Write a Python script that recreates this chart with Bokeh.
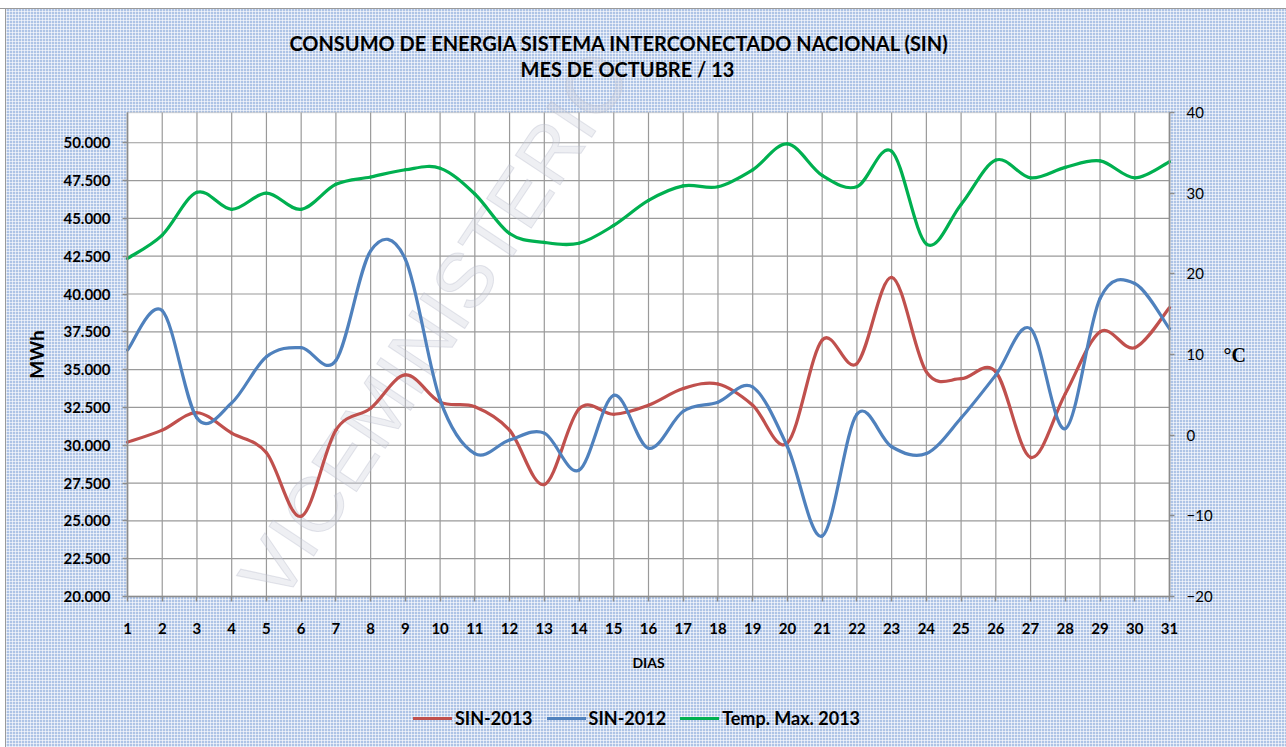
import numpy as np
from bokeh.plotting import figure
from bokeh.core.properties import value
from bokeh.models import (Range1d, LinearAxis, FixedTicker, CustomJSTickFormatter,
                          Legend, LegendItem, Label, BoxAnnotation, ColumnDataSource)
from bokeh.embed import file_html
from bokeh.resources import INLINE

# ---------------- data ----------------
days = list(range(1, 32))
sin_2013 = [30200, 31000, 32150, 30800, 29500, 25300, 31000, 32450, 34650, 32850,
            32550, 31000, 27400, 32400, 32050, 32650, 33750, 34050, 32650, 30150,
            36950, 35400, 41100, 34850, 34400, 34850, 29200, 33400, 37500, 36450, 39100]
sin_2012 = [36300, 38900, 31800, 32800, 35850, 36450, 35600, 42850, 42300, 33000,
            29450, 30350, 30800, 28350, 33300, 29800, 32250, 32850, 33850, 29900,
            24000, 32050, 29900, 29450, 31800, 34650, 37700, 31100, 39700, 40700, 37700]
temp_max_2013 = [21.9, 24.8, 30.1, 28.0, 30.0, 28.0, 31.1, 32.0, 32.9, 33.1,
                 29.9, 25.0, 23.9, 23.8, 26.0, 29.1, 30.9, 30.8, 32.9, 36.1,
                 32.2, 30.8, 35.2, 23.7, 28.6, 34.1, 31.9, 33.2, 34.0, 31.9, 33.9]
mwh_ticks = list(range(20000, 50001, 2500))
temp_ticks = [-20, -10, 0, 10, 20, 30, 40]
series_names = ["SIN-2013", "SIN-2012", "Temp. Max. 2013"]
series_colors = ["#c0504d", "#4f81bd", "#00b050"]
title_lines = ["CONSUMO DE ENERGIA SISTEMA INTERCONECTADO NACIONAL (SIN)",
               "MES DE OCTUBRE / 13"]
watermark_text = "VICEMINISTERIO"

# axis limits of the plot area
MWH_MIN, MWH_MAX = 20000, 52000
T_MIN, T_MAX = -20, 40
D_MIN, D_MAX = 1, 31

# ---------------- layout geometry (pixels) ----------------
W, H = 1286, 747
FB = 730                               # bottom of the drawing frame
PL, PR, PT, PB = 127, 1169, 112, 596   # plot-area edges

ppu = (PB - PT) / (MWH_MAX - MWH_MIN)
y_lo = MWH_MIN - (FB - PB) / ppu
y_hi = MWH_MAX + PT / ppu
tpu = (PB - PT) / (T_MAX - T_MIN)
t_lo = T_MIN - (FB - PB) / tpu
t_hi = T_MAX + PT / tpu
dpp = (PR - PL) / (D_MAX - D_MIN)
x_lo = D_MIN - PL / dpp
x_hi = D_MAX + (W - PR) / dpp


def px_x(px):
    return D_MIN + (px - PL) / dpp


def px_y(py):
    return MWH_MAX + (PT - py) / ppu


def smooth_source(x, y):
    """Cubic Bezier segments (Catmull-Rom style), like a smoothed Excel line."""
    x = np.asarray(x, float)
    y = np.asarray(y, float)
    n = len(x)
    d = dict(x0=[], y0=[], x1=[], y1=[], cx0=[], cy0=[], cx1=[], cy1=[])
    for i in range(n - 1):
        im = max(i - 1, 0)
        ip = min(i + 2, n - 1)
        d["x0"].append(x[i]); d["y0"].append(y[i])
        d["x1"].append(x[i + 1]); d["y1"].append(y[i + 1])
        d["cx0"].append(x[i] + (x[i + 1] - x[im]) / 6.0)
        d["cy0"].append(y[i] + (y[i + 1] - y[im]) / 6.0)
        d["cx1"].append(x[i + 1] - (x[ip] - x[i]) / 6.0)
        d["cy1"].append(y[i + 1] - (y[ip] - y[i]) / 6.0)
    return ColumnDataSource(d)


# ---------------- figure ----------------
p = figure(width=W, height=H, output_backend="svg", toolbar_location=None,
           x_range=Range1d(x_lo, x_hi), y_range=Range1d(y_lo, y_hi),
           min_border_left=0, min_border_right=0,
           min_border_top=0, min_border_bottom=H - FB)
p.border_fill_color = None
p.background_fill_color = None
p.outline_line_color = None
p.styles = {
    "background-color": "#aec4e6",
    "background-image": (
        "linear-gradient(180deg, #ffffff 0px, #ffffff 8px, #9a9a9a 8px, #9a9a9a 9px, transparent 9px),"
        "linear-gradient(90deg, #ffffff 0px, #ffffff 5px, #9a9a9a 5px, #9a9a9a 6px, transparent 6px),"
        "linear-gradient(90deg, rgba(255,255,255,0.6) 1px, transparent 1px),"
        "linear-gradient(0deg, rgba(255,255,255,0.6) 1px, transparent 1px)"),
    "background-size": "100% 100%, 100% 100%, 3px 3px, 3px 3px",
    "background-repeat": "no-repeat, no-repeat, repeat, repeat",
}

p.extra_y_ranges = {"temp": Range1d(t_lo, t_hi)}

# white plot area
p.add_layout(BoxAnnotation(left=D_MIN, right=D_MAX, bottom=MWH_MIN, top=MWH_MAX,
                           fill_color="white", fill_alpha=1.0,
                           line_color="#8c8c8c", line_width=1.5, level="image"))

# grid lines, limited to the plot area
p.xgrid.visible = False
p.ygrid.visible = False
p.segment(x0=days, y0=[MWH_MIN] * len(days), x1=days, y1=[MWH_MAX] * len(days),
          line_color="#9a9a9a", line_width=1.2, level="underlay")
p.segment(x0=[D_MIN] * len(mwh_ticks), y0=mwh_ticks, x1=[D_MAX] * len(mwh_ticks), y1=mwh_ticks,
          line_color="#9a9a9a", line_width=1.2, level="underlay")

# x axis (drawn at the bottom of the plot area)
xa = p.xaxis[0]
xa.ticker = FixedTicker(ticks=days)
xa.axis_label = "DIAS"
xa.fixed_location = MWH_MIN
xa.bounds = (D_MIN, D_MAX)
# y axis (left)
ya = p.yaxis[0]
ya.ticker = FixedTicker(ticks=mwh_ticks)
ya.axis_label = "MWh"
ya.fixed_location = D_MIN
ya.bounds = (MWH_MIN, MWH_MAX)
ya.formatter = CustomJSTickFormatter(code="""
    const s = Math.round(tick).toString();
    return s.length > 3 ? s.slice(0, s.length - 3) + '.' + s.slice(-3) : s;
""")
# right axis
ra = LinearAxis(y_range_name="temp", ticker=FixedTicker(ticks=temp_ticks),
                bounds=(T_MIN, T_MAX), fixed_location=D_MAX,
                axis_label="°C", axis_label_orientation="horizontal")
p.add_layout(ra, "right")

for ax in (xa, ya, ra):
    ax.axis_line_color = "#8c8c8c"
    ax.axis_line_width = 1.5
    ax.major_tick_line_color = "#8c8c8c"
    ax.major_tick_line_width = 1.5
    ax.major_tick_out = 5
    ax.major_tick_in = 0
    ax.minor_tick_line_color = None
    ax.major_label_text_color = "black"
    ax.major_label_text_font = "Lato"
    ax.major_label_text_font_size = "15px"
    ax.axis_label_text_color = "black"
    ax.axis_label_text_font_style = "bold"

xa.major_label_text_font_style = "bold"
xa.major_label_standoff = 21
xa.axis_label_text_font = "Lato"
xa.axis_label_text_font_size = "14px"
xa.axis_label_standoff = 17

ya.major_label_text_font_style = "bold"
ya.major_label_standoff = 12
ya.axis_label_text_font = "Lato"
ya.axis_label_text_font_size = "19px"
ya.axis_label_standoff = 12

ra.major_label_text_font_style = "normal"
ra.major_label_standoff = 12
ra.axis_label_text_font = "Liberation Serif"
ra.axis_label_text_font_size = "20px"
ra.axis_label_standoff = 8

# watermark (faint outlined text behind the lines)
p.text(x=[px_x(258)], y=[px_y(590)], text=[watermark_text], angle=0.985,
       text_font=value("Liberation Sans"), text_font_size=value("78px"),
       text_baseline="alphabetic", text_align="left",
       text_color="#cdd1dc", text_alpha=0.35, text_outline_color="#b4b8c8",
       level="underlay")

# series
renderers = []
for vals, color, rng in ((sin_2013, series_colors[0], "default"),
                         (sin_2012, series_colors[1], "default"),
                         (temp_max_2013, series_colors[2], "temp")):
    src = smooth_source(days, vals)
    r = p.bezier(x0="x0", y0="y0", x1="x1", y1="y1", cx0="cx0", cy0="cy0",
                 cx1="cx1", cy1="cy1", source=src, line_color=color, line_width=3.2,
                 line_cap="round", y_range_name=rng)
    renderers.append(r)

legend = Legend(items=[LegendItem(label=n, renderers=[r]) for n, r in zip(series_names, renderers)],
                orientation="horizontal", location=(413, FB - 729),
                border_line_color=None, background_fill_alpha=0,
                label_text_font="Lato", label_text_font_style="bold",
                label_text_font_size="18px", label_text_color="black",
                glyph_width=39, glyph_height=20, label_standoff=3, spacing=14,
                padding=0, margin=0)
p.add_layout(legend)

# two title lines
for txt, cx, cy in ((title_lines[0], 619, 42), (title_lines[1], 627, 68)):
    p.add_layout(Label(x=px_x(cx), y=px_y(cy), text=txt, text_align="center",
                       text_baseline="middle", text_color="black", text_font="Lato",
                       text_font_size="20px", text_font_style="bold"))

open("out.html", "w").write(file_html(p, INLINE))
